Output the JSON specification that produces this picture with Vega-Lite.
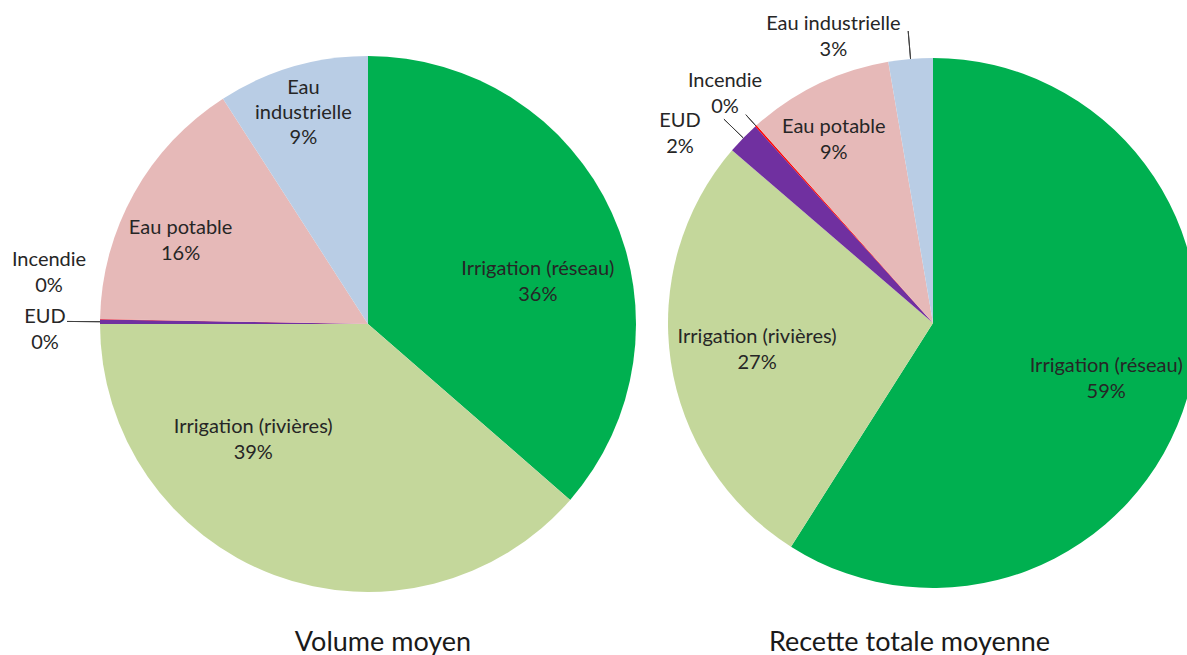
{
  "$schema": "https://vega.github.io/schema/vega-lite/v6.json",
  "padding": 0,
  "spacing": 0,
  "bounds": "flush",
  "background": "white",
  "config": {"view": {"stroke": null}, "text": {"font": "Lato", "fontSize": 20, "lineHeight": 26, "lineBreak": "\n", "fill": "#262626"}},
  "datasets": {
    "volume": [
      {"cat": "Irrigation (réseau)", "part": 36.4, "rang": 1},
      {"cat": "Irrigation (rivières)", "part": 38.6, "rang": 2},
      {"cat": "EUD", "part": 0.27, "rang": 3},
      {"cat": "Incendie", "part": 0.03, "rang": 4},
      {"cat": "Eau potable", "part": 15.6, "rang": 5},
      {"cat": "Eau industrielle", "part": 9.1, "rang": 6}
    ],
    "recette": [
      {"cat": "Irrigation (réseau)", "part": 59.0, "rang": 1},
      {"cat": "Irrigation (rivières)", "part": 27.3, "rang": 2},
      {"cat": "EUD", "part": 2.0, "rang": 3},
      {"cat": "Incendie", "part": 0.1, "rang": 4},
      {"cat": "Eau potable", "part": 8.9, "rang": 5},
      {"cat": "Eau industrielle", "part": 2.7, "rang": 6}
    ]
  },
  "hconcat": [
    {
      "width": 736,
      "height": 648,
      "data": {"name": "volume"},
      "title": {"text": "Volume moyen", "orient": "bottom", "offset": -18, "dx": 15, "fontSize": 27, "font": "Lato", "fontWeight": "normal", "color": "#1a1a1a", "frame": "group", "anchor": "middle"},
      "transform": [
        {"stack": "part", "groupby": [], "sort": [{"field": "rang", "order": "ascending"}], "as": ["t0", "t1"]},
        {"calculate": "datum.cat + '\\n' + format(datum.part, '.0f') + '%'", "as": "etiquette"},
        {"calculate": "replace(datum.cat, ' ', '\\n') + '\\n' + format(datum.part, '.0f') + '%'", "as": "etiquette3"}
      ],
      "layer": [
        {
          "mark": {"type": "arc", "radius": 268},
          "encoding": {
            "theta": {"field": "t0", "type": "quantitative", "scale": {"domain": [0, 100]}},
            "theta2": {"field": "t1"},
            "color": {"field": "cat", "type": "nominal", "legend": null,
              "scale": {"domain": ["Irrigation (réseau)", "Irrigation (rivières)", "EUD", "Incendie", "Eau potable", "Eau industrielle"],
                        "range": ["#00B050", "#C4D79B", "#7030A0", "#FF0000", "#E6B9B8", "#B9CDE5"]}}
          }
        },
        {
          "transform": [{"filter": "datum.cat === 'EUD'"}],
          "mark": {"type": "arc", "radius": 301, "radius2": 268, "padAngle": 0.5, "fillOpacity": 0, "stroke": "#404040", "strokeWidth": 1},
          "encoding": {"theta": {"field": "t0", "type": "quantitative", "scale": {"domain": [0, 100]}}, "theta2": {"field": "t1"}}
        },
        {
          "transform": [{"filter": "datum.cat === 'Irrigation (réseau)'"}],
          "mark": {"type": "text", "dy": -13, "radius": 175, "thetaOffset": 1.3265},
          "encoding": {"theta": {"field": "t0", "type": "quantitative", "scale": {"domain": [0, 100]}}, "text": {"field": "etiquette"}}
        },
        {
          "transform": [{"filter": "datum.cat === 'Irrigation (rivières)'"}],
          "mark": {"type": "text", "dy": -13, "radius": 163, "thetaOffset": 1.6356},
          "encoding": {"theta": {"field": "t0", "type": "quantitative", "scale": {"domain": [0, 100]}}, "text": {"field": "etiquette"}}
        },
        {
          "transform": [{"filter": "datum.cat === 'EUD'"}],
          "mark": {"type": "text", "dy": -13, "radius": 323, "thetaOffset": -0.0185},
          "encoding": {"theta": {"field": "t0", "type": "quantitative", "scale": {"domain": [0, 100]}}, "text": {"field": "etiquette"}}
        },
        {
          "transform": [{"filter": "datum.cat === 'Incendie'"}],
          "mark": {"type": "text", "dy": -13, "radius": 323, "thetaOffset": 0.1414},
          "encoding": {"theta": {"field": "t0", "type": "quantitative", "scale": {"domain": [0, 100]}}, "text": {"field": "etiquette"}}
        },
        {
          "transform": [{"filter": "datum.cat === 'Eau potable'"}],
          "mark": {"type": "text", "dy": -13, "radius": 205, "thetaOffset": 0.3983},
          "encoding": {"theta": {"field": "t0", "type": "quantitative", "scale": {"domain": [0, 100]}}, "text": {"field": "etiquette"}}
        },
        {
          "transform": [{"filter": "datum.cat === 'Eau industrielle'"}],
          "mark": {"type": "text", "dy": -25, "lineHeight": 25, "radius": 221, "thetaOffset": 0.2751},
          "encoding": {"theta": {"field": "t0", "type": "quantitative", "scale": {"domain": [0, 100]}}, "text": {"field": "etiquette3"}}
        }
      ]
    },
    {
      "width": 394,
      "height": 646,
      "data": {"name": "recette"},
      "title": {"text": "Recette totale moyenne", "orient": "bottom", "offset": -16, "dx": -23.5, "fontSize": 27, "font": "Lato", "fontWeight": "normal", "color": "#1a1a1a", "frame": "group", "anchor": "middle"},
      "transform": [
        {"stack": "part", "groupby": [], "sort": [{"field": "rang", "order": "ascending"}], "as": ["t0", "t1"]},
        {"calculate": "datum.cat + '\\n' + format(datum.part, '.0f') + '%'", "as": "etiquette"}
      ],
      "layer": [
        {
          "mark": {"type": "arc", "radius": 265},
          "encoding": {
            "theta": {"field": "t0", "type": "quantitative", "scale": {"domain": [0, 100]}},
            "theta2": {"field": "t1"},
            "color": {"field": "cat", "type": "nominal", "legend": null,
              "scale": {"domain": ["Irrigation (réseau)", "Irrigation (rivières)", "EUD", "Incendie", "Eau potable", "Eau industrielle"],
                        "range": ["#00B050", "#C4D79B", "#7030A0", "#FF0000", "#E6B9B8", "#B9CDE5"]}}
          }
        },
        {
          "transform": [{"filter": "datum.cat === 'EUD'"}],
          "mark": {"type": "arc", "radius": 292, "radius2": 265, "padAngle": 0.5, "fillOpacity": 0, "stroke": "#404040", "strokeWidth": 1},
          "encoding": {"theta": {"field": "t0", "type": "quantitative", "scale": {"domain": [0, 100]}}, "theta2": {"field": "t1"}}
        },
        {
          "transform": [{"filter": "datum.cat === 'Incendie'"}],
          "mark": {"type": "arc", "radius": 280, "radius2": 265, "padAngle": 0.5, "fillOpacity": 0, "stroke": "#404040", "strokeWidth": 1},
          "encoding": {"theta": {"field": "t0", "type": "quantitative", "scale": {"domain": [0, 100]}}, "theta2": {"field": "t1"}}
        },
        {
          "transform": [{"filter": "datum.cat === 'Eau industrielle'"}],
          "mark": {"type": "arc", "radius": 293, "radius2": 265, "padAngle": 0.5, "fillOpacity": 0, "stroke": "#404040", "strokeWidth": 1},
          "encoding": {"theta": {"field": "t0", "type": "quantitative", "scale": {"domain": [0, 100]}}, "theta2": {"field": "t1"}}
        },
        {
          "transform": [{"filter": "datum.cat === 'Irrigation (réseau)'"}],
          "mark": {"type": "text", "dy": -13, "radius": 182, "thetaOffset": 1.8832},
          "encoding": {"theta": {"field": "t0", "type": "quantitative", "scale": {"domain": [0, 100]}}, "text": {"field": "etiquette"}}
        },
        {
          "transform": [{"filter": "datum.cat === 'Irrigation (rivières)'"}],
          "mark": {"type": "text", "dy": -13, "radius": 178, "thetaOffset": 0.8535},
          "encoding": {"theta": {"field": "t0", "type": "quantitative", "scale": {"domain": [0, 100]}}, "text": {"field": "etiquette"}}
        },
        {
          "transform": [{"filter": "datum.cat === 'EUD'"}],
          "mark": {"type": "text", "dy": -13, "radius": 316, "thetaOffset": -0.0677},
          "encoding": {"theta": {"field": "t0", "type": "quantitative", "scale": {"domain": [0, 100]}}, "text": {"field": "etiquette"}}
        },
        {
          "transform": [{"filter": "datum.cat === 'Incendie'"}],
          "mark": {"type": "text", "dy": -13, "radius": 309, "thetaOffset": -0.0031},
          "encoding": {"theta": {"field": "t0", "type": "quantitative", "scale": {"domain": [0, 100]}}, "text": {"field": "etiquette"}}
        },
        {
          "transform": [{"filter": "datum.cat === 'Eau potable'"}],
          "mark": {"type": "text", "dy": -13, "radius": 208, "thetaOffset": 0.2314},
          "encoding": {"theta": {"field": "t0", "type": "quantitative", "scale": {"domain": [0, 100]}}, "text": {"field": "etiquette"}}
        },
        {
          "transform": [{"filter": "datum.cat === 'Eau industrielle'"}],
          "mark": {"type": "text", "dy": -13, "radius": 303, "thetaOffset": -0.1655},
          "encoding": {"theta": {"field": "t0", "type": "quantitative", "scale": {"domain": [0, 100]}}, "text": {"field": "etiquette"}}
        }
      ]
    }
  ]
}
